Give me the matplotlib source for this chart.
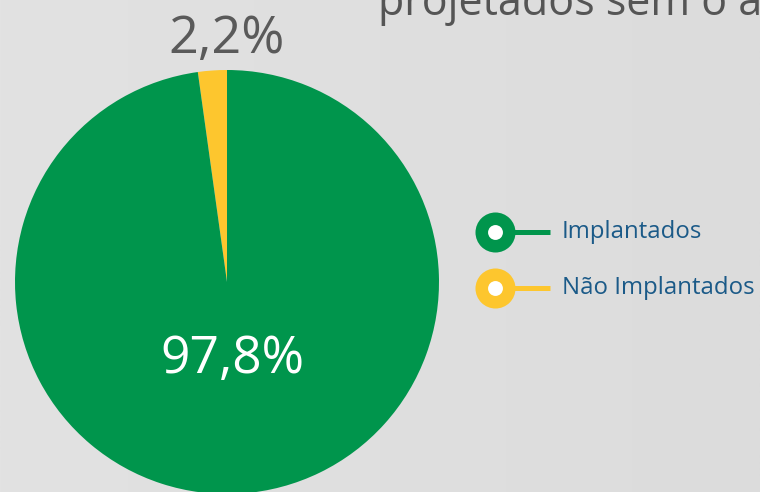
import matplotlib.pyplot as plt
import numpy as np

categorias = ['Implantados', 'Não Implantados']
valores = [97.8, 2.2]
rotulos = ['97,8%', '2,2%']
cores = ['#00954c', '#fdc62e']
titulo = 'projetados sem o a'

plt.rcParams['font.family'] = ['Open Sans', 'DejaVu Sans']

fig = plt.figure(figsize=(7.6, 4.92), dpi=100)
ax = fig.add_axes([0, 0, 1, 1])

# fundo cinza com leve degradê
grad = np.linspace(0, 1, 256).reshape(1, -1)
ax.imshow(grad, extent=(0, 760, 0, 492), cmap=plt.matplotlib.colors.LinearSegmentedColormap.from_list(
    'bg', ['#e2e2e2', '#dcdcdc']), aspect='auto', zorder=0)

# pizza (amarelo começa no topo e gira no sentido anti-horário)
ax.pie(valores[::-1], colors=cores[::-1], startangle=90, counterclock=True,
       center=(227, 210), radius=212, wedgeprops=dict(linewidth=0))

ax.set_xlim(0, 760)
ax.set_ylim(0, 492)
ax.set_aspect('equal')
ax.axis('off')

ax.text(232, 133, rotulos[0], color='white', fontsize=37, ha='center', va='center')
ax.text(227, 452, rotulos[1], color='#5a5a5a', fontsize=37.5, ha='center', va='center')

# título cortado na borda superior, como no original
ax.text(378, 477, titulo, color='#555555', fontsize=31, ha='left', va='baseline')

# legenda
for i, (cat, cor) in enumerate(zip(categorias, cores)):
    y = 260 - i * 56
    ax.plot([500, 550], [y, y], color=cor, lw=3.6, solid_capstyle='butt', zorder=3)
    ax.scatter([495], [y], s=830, color=cor, zorder=4, linewidths=0)
    ax.scatter([495], [y], s=115, color='white', zorder=5, linewidths=0)
    ax.text(562, y, cat, color='#1b5a88', fontsize=17.3, ha='left', va='center')

fig.savefig('out.png', dpi=100)
